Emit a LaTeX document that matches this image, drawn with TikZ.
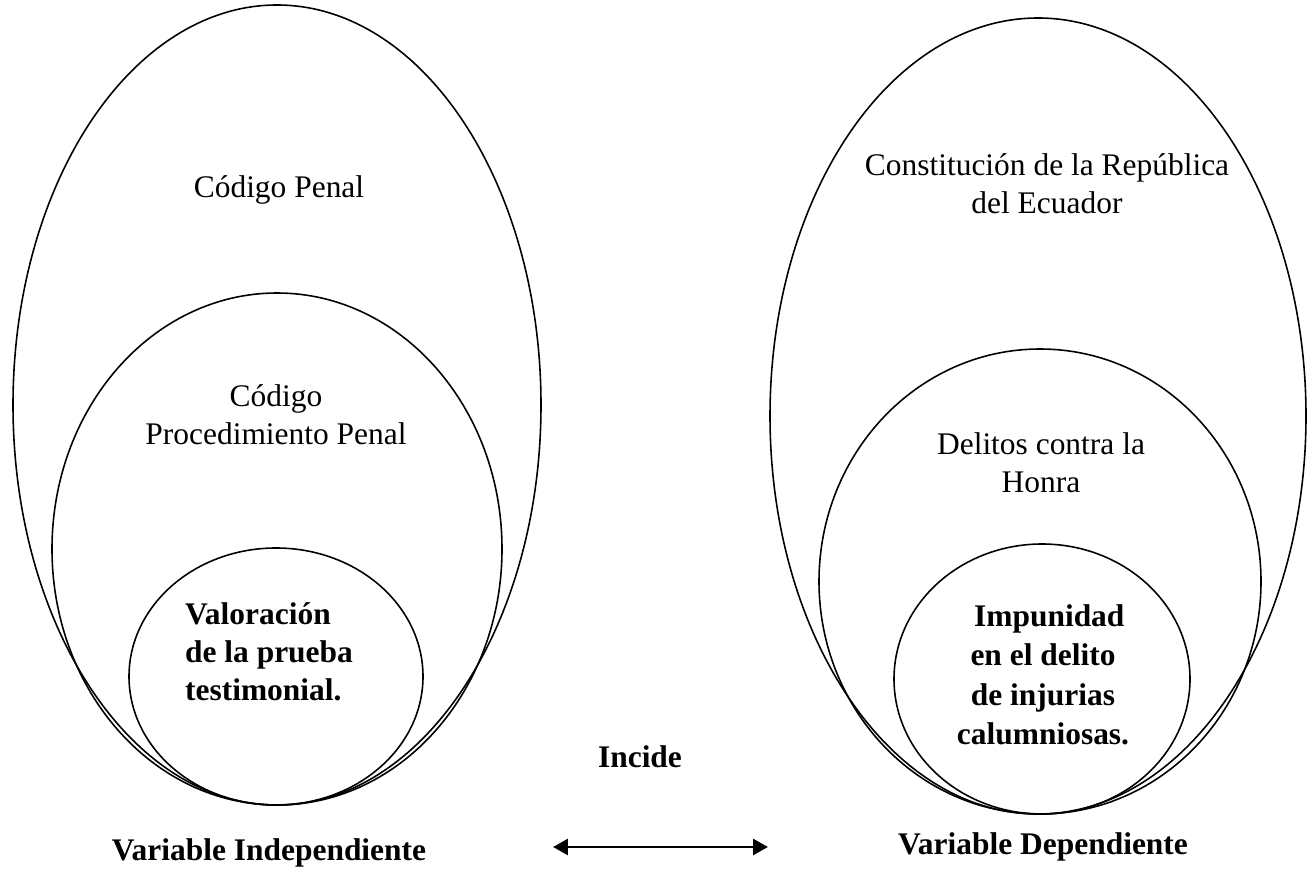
\documentclass[tikz,border=0pt]{standalone}
\usepackage{fontspec}
\setmainfont{Liberation Serif}
\usetikzlibrary{arrows.meta}

\tikzset{
  ring/.style={line width=0.9pt},
  lbl/.style={font=\fontsize{17.9}{21.5}\selectfont, align=center, inner sep=0pt},
  blbl/.style={lbl, font=\fontsize{17.9}{21.5}\selectfont\bfseries},
  link/.style={line width=1.7pt, {Triangle[length=8.5pt,width=9pt]}-{Triangle[length=8.5pt,width=9pt]}},
}

\begin{document}
\begin{tikzpicture}[x=0.02cm, y=-0.02cm]
  \useasboundingbox (0,0) rectangle (1308,874);
  % Left side: nested ellipses, all touching at the bottom
  \draw[ring] (277,405) ellipse (264 and 400);
  \draw[ring] (277,549) ellipse (225 and 256);
  \draw[ring] (276,676.5) ellipse (147 and 128.5);
  % Right side
  \draw[ring] (1038,416) ellipse (268 and 398);
  \draw[ring] (1040,581.5) ellipse (221 and 232.5);
  \draw[ring] (1042,679) ellipse (148 and 135);

  % Labels, left
  \node[lbl] (cpenal) at (279,190) {Código Penal};
  \node[lbl] (cproc) at (276,415) {Código\\Procedimiento Penal};
  \node[blbl, align=left] (valor) at (269,652) {Valoración\\de la prueba\\testimonial.};
  % Labels, right
  \node[lbl] (constit) at (1047,184) {Constitución de la República\\del Ecuador};
  \node[lbl] (delitos) at (1041,463) {Delitos contra la\\Honra};
  \node[blbl, font=\fontsize{17.9}{22.5}\selectfont\bfseries] (impun) at (1043,675) {\hspace{0.4em}Impunidad\\en el delito\\de injurias\\calumniosas.};

  % Bottom row
  \node[blbl] (incide) at (640,757) {Incide};
  \node[blbl] (varind) at (269,853) {Variable Independiente};
  \node[blbl] (vardep) at (1043,847) {Variable Dependiente};
  \coordinate (arrL) at (553,847);
  \coordinate (arrR) at (768,847);
  \draw[link] (arrL) -- (arrR);
\end{tikzpicture}
\end{document}
